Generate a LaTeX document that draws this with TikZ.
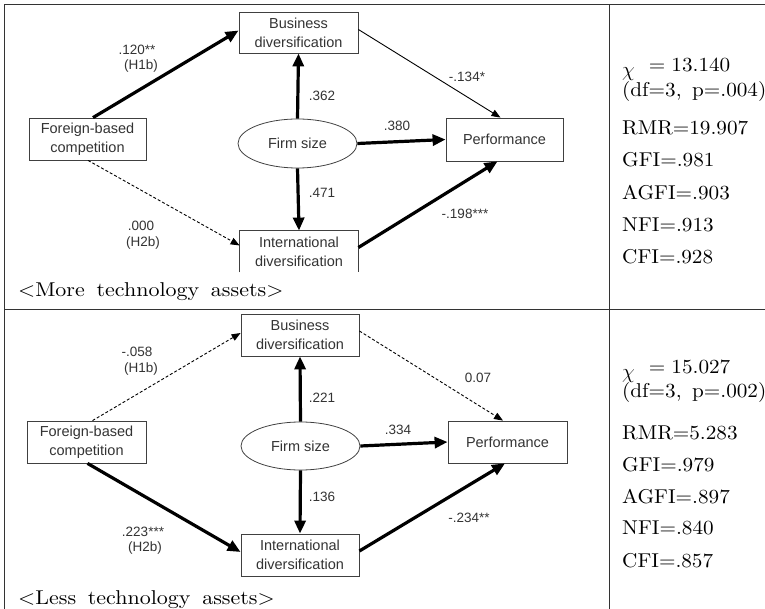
\documentclass[tikz,border=0pt]{standalone}
\usepackage{fontspec}
\newfontfamily\dsans{Liberation Sans}
\newfontfamily\capfont{lmroman10-regular.otf}[FakeStretch=1.1, WordSpace=1.6]
\newfontfamily\statfont{lmroman10-regular.otf}[FakeStretch=1.06]
\usetikzlibrary{arrows.meta,shapes.geometric}
\begin{document}
\begin{tikzpicture}[x=1pt,y=-1pt,
  box/.style={draw=black!75, line width=0.8pt, inner sep=0pt, align=center, text=black!80,
    font=\dsans\fontsize{14.5}{19}\selectfont},
  oval/.style={ellipse, draw=black!75, line width=0.8pt, inner sep=0pt, text=black!80,
    font=\dsans\fontsize{14.5}{19}\selectfont},
  bigarr/.style={line width=3.2pt, -{Triangle[length=13pt,width=11pt]}},
  thinarr/.style={line width=0.9pt, -{Triangle[length=9pt,width=7pt]}},
  dasharr/.style={thinarr, dash pattern=on 3pt off 2pt},
  lbl/.style={font=\dsans\fontsize{13.5}{15}\selectfont, text=black!80, inner sep=0pt},
  stat/.style={anchor=base west, font=\statfont\fontsize{20}{22}\selectfont, inner sep=0pt},
  captext/.style={anchor=base west, font=\capfont\fontsize{20}{22}\selectfont, inner sep=0pt},
  frame/.style={draw=black!80, line width=1pt}
]
\useasboundingbox (0,0) rectangle (765,609);
% table frame
\draw[frame] (4,609) -- (4,5) -- (765,5);
\draw[frame] (4,310) -- (765,310);
\draw[frame] (609,5) -- (609,609);

% ---------------- top panel ----------------
\node[box, minimum width=119pt, minimum height=41pt] (B1) at (298.5,32.5) {Business\\diversification};
\node[box, minimum width=117pt, minimum height=42pt] (F1) at (87.5,139) {Foreign-based\\competition};
\node[oval, minimum width=119pt, minimum height=49pt] (S1) at (297.5,143.5) {Firm size};
\node[box, draw=none, minimum width=118pt, minimum height=41pt] (I1) at (299,251.5) {International\\diversification};
\draw[black!75, line width=0.8pt] (I1.south west) -- (I1.north west) -- (I1.north east) -- (I1.south east);
\node[box, minimum width=117pt, minimum height=43pt] (P1) at (504.5,139.5) {Performance};

\draw[bigarr] ([xshift=5.5pt]F1.north) -- ([yshift=2pt]B1.west);
\draw[bigarr] (S1.north) -- (B1.south);
\draw[bigarr] (S1.south) -- (I1.north);
\draw[dasharr] ([xshift=0.5pt]F1.south) -- ([yshift=6pt]I1.west);
\draw[thinarr] ([yshift=3pt]B1.east) -- ([xshift=-4pt]P1.north);
\draw[bigarr] (S1.east) -- (P1.west);
\draw[bigarr] ([yshift=4pt]I1.east) -- ([xshift=-7pt]P1.south);

\node[lbl] (t1a) at (137,50) {.120**};
\node[lbl] (t1b) at (141,66) {(H1b)};
\node[lbl] (t2) at (322,96) {.362};
\node[lbl] (t3) at (397,126) {.380};
\node[lbl] (t4) at (467,77) {-.134*};
\node[lbl] (t5) at (322,193) {.471};
\node[lbl] (t6a) at (141,226) {.000};
\node[lbl] (t6b) at (143,243) {(H2b)};
\node[lbl] (t7) at (465,214) {-.198***};

\node[stat] (s1) at (622,71.5) {\raisebox{-5pt}{$\chi$}\hspace{14pt}=\hspace{6pt}13.140};
\node[stat] (s2) at (622,96.5) {(df=3,\ \,p=.004)};
\node[stat] (s3) at (622,134.5) {RMR=19.907};
\node[stat] (s4) at (622,166.5) {GFI=.981};
\node[stat] (s5) at (622,199.5) {AGFI=.903};
\node[stat] (s6) at (622,231.5) {NFI=.913};
\node[stat] (s7) at (622,263.5) {CFI=.928};
\node[captext] (c1) at (18,297) {\textless More technology assets\textgreater};

% ---------------- bottom panel ----------------
\node[box, minimum width=118pt, minimum height=42pt] (B2) at (300,335) {Business\\diversification};
\node[box, minimum width=119pt, minimum height=42pt] (F2) at (86.5,442) {Foreign-based\\competition};
\node[oval, minimum width=119pt, minimum height=48pt] (S2) at (300.5,446) {Firm size};
\node[box, minimum width=118pt, minimum height=42pt] (I2) at (300,555) {International\\diversification};
\node[box, minimum width=119pt, minimum height=42pt] (P2) at (507.5,442) {Performance};

\draw[dasharr] ([xshift=6pt]F2.north) -- ([yshift=2pt]B2.west);
\draw[bigarr] (S2.north) -- (B2.south);
\draw[bigarr] (S2.south) -- (I2.north);
\draw[bigarr] ([xshift=1pt]F2.south) -- ([yshift=3pt]I2.west);
\draw[dasharr] ([yshift=4pt]B2.east) -- ([xshift=-4.5pt]P2.north);
\draw[bigarr] (S2.east) -- (P2.west);
\draw[bigarr] ([yshift=4pt]I2.east) -- ([xshift=-2.5pt]P2.south);

\node[lbl] (u1a) at (137,352) {-.058};
\node[lbl] (u1b) at (141,369) {(H1b)};
\node[lbl] (u2) at (322,398) {.221};
\node[lbl] (u3) at (478,378) {0.07};
\node[lbl] (u4) at (398,430) {.334};
\node[lbl] (u5) at (322,497) {.136};
\node[lbl] (u6a) at (143,532) {.223***};
\node[lbl] (u6b) at (145,548) {(H2b)};
\node[lbl] (u7) at (469,518) {-.234**};

\node[stat] (v1) at (622,373.5) {\raisebox{-5pt}{$\chi$}\hspace{14pt}=\hspace{6pt}15.027};
\node[stat] (v2) at (622,397.5) {(df=3,\ \,p=.002)};
\node[stat] (v3) at (622,439.5) {RMR=5.283};
\node[stat] (v4) at (622,471.5) {GFI=.979};
\node[stat] (v5) at (622,503.5) {AGFI=.897};
\node[stat] (v6) at (622,534.5) {NFI=.840};
\node[stat] (v7) at (622,567.5) {CFI=.857};
\node[captext] (c2) at (18,604) {\textless Less technology assets\textgreater};
\end{tikzpicture}
\end{document}
